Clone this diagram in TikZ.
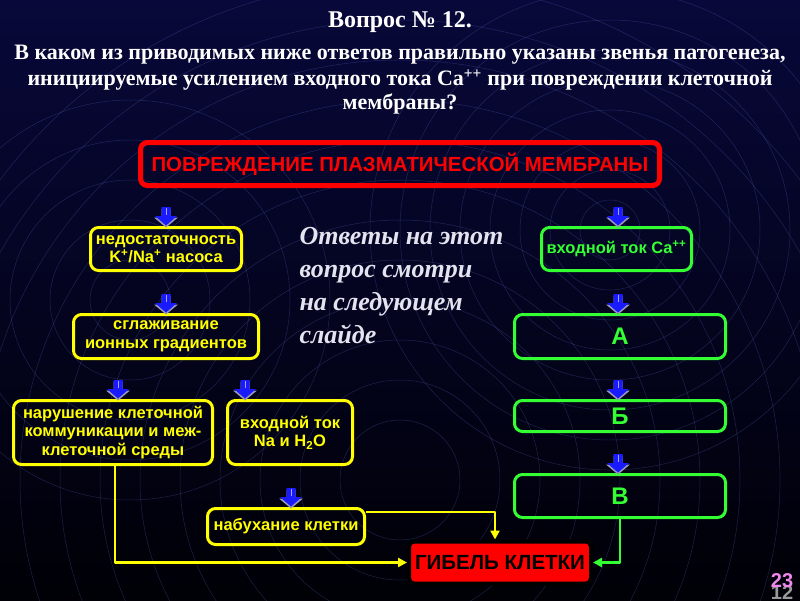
\documentclass[tikz,border=0pt]{standalone}
\usepackage{fontspec}
\setmainfont{Liberation Serif}
\setsansfont{Liberation Sans}
\usetikzlibrary{arrows.meta,positioning}
\definecolor{SlideTop}{HTML}{08083A}
\definecolor{SlideMid}{HTML}{0C0C6E}
\definecolor{SlideBottom}{HTML}{000006}
\definecolor{RippleBlue}{HTML}{5A6EC8}
\definecolor{FrameRed}{HTML}{FF0000}
\definecolor{LinkYellow}{HTML}{FFFF00}
\definecolor{LinkGreen}{HTML}{33FF33}
\definecolor{ArrowBlue}{HTML}{1A1AFF}
\definecolor{ArrowShade}{HTML}{9A9AB8}
\definecolor{HintGray}{HTML}{E4E4F0}
\definecolor{PagePink}{HTML}{EE88EE}

\begin{document}
\begin{tikzpicture}[
  x=1pt,y=-1pt,
  line join=round,
  >={Triangle[length=9pt,width=9pt]},
  title text/.style={text=white,font=\bfseries\fontsize{24}{26}\selectfont},
  question text/.style={text=white,font=\bfseries\fontsize{22}{24}\selectfont},
  hint text/.style={text=HintGray,align=left,font=\itshape\bfseries\fontsize{26}{33}\selectfont},
  redframe/.style={draw=FrameRed,line width=5pt,rounded corners=7pt,text=FrameRed,
    font=\sffamily\bfseries\fontsize{20.4}{22}\selectfont},
  yellowbox/.style={draw=LinkYellow,line width=3pt,rounded corners=8pt,text=LinkYellow,
    align=center,font=\sffamily\bfseries\fontsize{16.5}{18.5}\selectfont},
  greenbox/.style={draw=LinkGreen,line width=3pt,rounded corners=8pt,text=LinkGreen,
    align=center,font=\sffamily\bfseries\fontsize{16.5}{18.5}\selectfont},
  letterbox/.style={greenbox,font=\sffamily\bfseries\fontsize{24}{26}\selectfont},
  deathbox/.style={fill=FrameRed,draw=black,line width=4pt,rounded corners=5pt,text=black,
    inner sep=1pt,font=\sffamily\bfseries\fontsize{20.5}{22}\selectfont},
  slide number/.style={font=\sffamily\bfseries\fontsize{20}{20}\selectfont},
  yellow link/.style={draw=LinkYellow,line width=2.5pt,->},
  green link/.style={draw=LinkGreen,line width=2.5pt,->},
  ripple/.style={draw=RippleBlue,line width=0.5pt,opacity=0.3}
]

% Block arrow pointing down, tip at the given point.
\newcommand{\BlueArrow}[1]{%
  \begin{scope}[shift={(#1)}]
    \fill[ArrowShade] (-4.5,-17.5) -- (4.5,-17.5) -- (4.5,-8.5) -- (12,-8.5)
      -- (0,1.5) -- (-12,-8.5) -- (-4.5,-8.5) -- cycle;
    \fill[ArrowBlue] (-4.5,-19) -- (4.5,-19) -- (4.5,-10) -- (11,-10)
      -- (0,-0.5) -- (-11,-10) -- (-4.5,-10) -- cycle;
    \draw[ArrowBlue!40!white,line width=0.8pt] (0.5,-18.5) -- (0.5,-11);
  \end{scope}%
}

% Slide background with ripples.
\useasboundingbox (0,0) rectangle (800,600);
\shade[top color=SlideTop,middle color=SlideMid,bottom color=SlideBottom]
  (0,0) rectangle (800,600);
\begin{scope}
  \clip (0,0) rectangle (800,600);
  \foreach \r in {60,100,...,500} {
    \draw[ripple] (400,480) circle[radius=\r pt];
  }
  \foreach \r in {30,60,...,240} {
    \draw[ripple] (610,230) circle[radius=\r pt];
  }
  \foreach \r in {40,80,...,200} {
    \draw[ripple] (130,300) circle[radius=\r pt];
  }
\end{scope}

% Question.
\node[title text] (quest) at (400,22) {Вопрос № 12.};
\node[question text] (qline1) at (400,55)
  {В каком из приводимых ниже ответов правильно указаны звенья патогенеза,};
\node[question text] (qline2) at (400,80)
  {инициируемые усилением входного тока Ca\textsuperscript{++} при повреждении клеточной};
\node[question text] (qline3) at (400,104) {мембраны?};

% Chain of boxes.
\node[redframe,minimum width=519,minimum height=43] (damage) at (400,164)
  {ПОВРЕЖДЕНИЕ ПЛАЗМАТИЧЕСКОЙ МЕМБРАНЫ};

\node[yellowbox,minimum width=151,minimum height=43] (pump) at (166,249)
  {недостаточность\\K\textsuperscript{+}/Na\textsuperscript{+} насоса};
\node[yellowbox,minimum width=185,minimum height=44] (smooth) at (166,336.5)
  {сглаживание\\ионных градиентов};
\node[yellowbox,minimum width=199,minimum height=64] (comm) at (113,432.5)
  {нарушение клеточной\\коммуникации и меж-\\клеточной среды};
\node[yellowbox,minimum width=125,minimum height=64] (influx) at (290,432.5)
  {входной ток\\Na и H\textsubscript{2}O};
\node[yellowbox,minimum width=157,minimum height=36] (swell) at (286,526.5)
  {набухание клетки};

\node[greenbox,minimum width=150,minimum height=43] (calc) at (616.5,249)
  {входной ток Ca\textsuperscript{++}};
\node[letterbox,minimum width=211,minimum height=44] (stepA) at (620,336.5) {А};
\node[letterbox,minimum width=211,minimum height=31] (stepB) at (620,416) {Б};
\node[letterbox,minimum width=211,minimum height=43] (stepC) at (620,496) {В};

\node[deathbox,minimum width=182,minimum height=42] (death) at (500,562.5)
  {ГИБЕЛЬ КЛЕТКИ};

\node[hint text,anchor=north west] (hint) at (296,224)
  {Ответы на этот\\вопрос смотри\\на следующем\\слайде};

% Block arrows.
\BlueArrow{pump.north}
\BlueArrow{smooth.north}
\BlueArrow{[xshift=5pt]comm.north}
\BlueArrow{[xshift=-45pt]influx.north}
\BlueArrow{[xshift=5pt]swell.north}
\BlueArrow{[xshift=1.5pt]calc.north}
\BlueArrow{[xshift=-2pt]stepA.north}
\BlueArrow{[xshift=-2pt]stepB.north}
\BlueArrow{[xshift=-2pt]stepC.north}

% Links to cell death.
\draw[yellow link] ([xshift=2pt]comm.south) |- (death.west);
\draw[yellow link] ([yshift=-5pt]swell.north east) -| ([xshift=-5pt]death.north);
\draw[green link] (stepC.south) |- (death.east);

% Slide number.
\node[slide number,text=gray!80] (oldnum) at (782,593) {12};
\node[slide number,text=PagePink] (slidenum) at (782,581) {23};

\end{tikzpicture}
\end{document}
